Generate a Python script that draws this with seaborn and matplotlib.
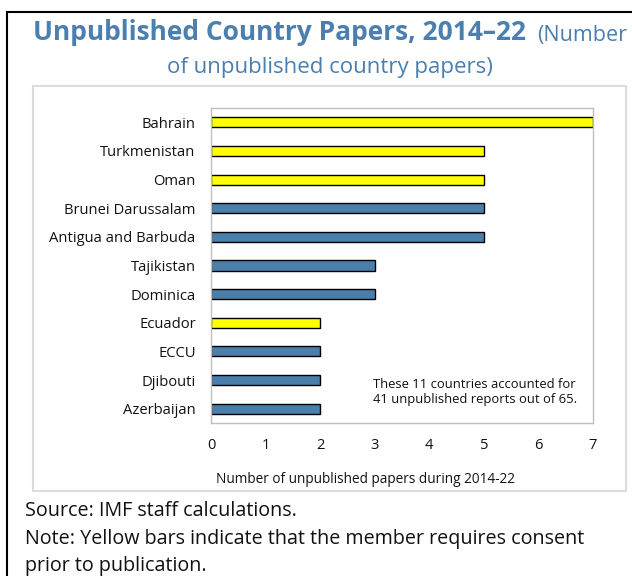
import matplotlib
matplotlib.use("Agg")
import matplotlib.pyplot as plt
from matplotlib.patches import Rectangle
from matplotlib.ticker import FixedLocator
import seaborn as sns
import pandas as pd

countries = ["Bahrain", "Turkmenistan", "Oman", "Brunei Darussalam", "Antigua and Barbuda",
             "Tajikistan", "Dominica", "Ecuador", "ECCU", "Djibouti", "Azerbaijan"]
papers = [7, 5, 5, 5, 5, 3, 3, 2, 2, 2, 2]
needs_consent = [True, True, True, False, False, False, False, True, False, False, False]
xticks = [0, 1, 2, 3, 4, 5, 6, 7]

BLUE = "#4a7eab"
YELLOW = "#ffff00"
TITLE_BLUE = "#4a7fb0"

sns.set_style("white")
plt.rcParams["font.family"] = ["Open Sans", "DejaVu Sans"]
plt.rcParams["text.color"] = "#111111"
plt.rcParams["axes.labelcolor"] = "#111111"
plt.rcParams["xtick.labelcolor"] = "#111111"
plt.rcParams["ytick.labelcolor"] = "#111111"

df = pd.DataFrame({"country": countries, "papers": papers, "consent": needs_consent})
palette = {c: (YELLOW if k else BLUE) for c, k in zip(countries, needs_consent)}

fig = plt.figure(figsize=(6.32, 5.76), dpi=100)
ax = fig.add_axes([211 / 632, 1 - 423 / 576, 382 / 632, 315 / 576])

sns.barplot(data=df, x="papers", y="country", hue="country", palette=palette,
            legend=False, width=0.35, edgecolor="black", linewidth=1, saturation=1, ax=ax)

ax.set_xlim(0, 7)
ax.set_ylim(len(countries) - 0.5, -0.5)
ax.set_xticks(xticks)
ax.set_xlabel("Number of unpublished papers during 2014-22", fontsize=9.8)
ax.xaxis.set_label_coords((365 - 211) / 382, -0.155)
ax.set_ylabel("")
ax.tick_params(axis="x", direction="in", length=4, color="#b0b0b0", labelsize=10.5, pad=11)
ax.tick_params(axis="y", which="major", length=0, labelsize=10.6, pad=11)
ax.yaxis.set_minor_locator(FixedLocator([i + 0.5 for i in range(len(countries) - 1)]))
ax.tick_params(axis="y", which="minor", direction="in", length=5, color="#c0c0c0")
for s in ax.spines.values():
    s.set_color("#c0c0c0")
    s.set_linewidth(1)

ax.text(2.97, 9.43, "These 11 countries accounted for\n41 unpublished reports out of 65.",
        ha="left", va="center", fontsize=9.4, linespacing=1.2)

# outer black frame and inner gray panel
fig.patches.append(Rectangle((7 / 632, -0.05), 1.1, 1 - 12 / 576 + 0.05, transform=fig.transFigure,
                             fill=False, edgecolor="black", linewidth=1.5, zorder=0))
fig.patches.append(Rectangle((33 / 632, 1 - 491 / 576), 593 / 632, 405 / 576, transform=fig.transFigure,
                             fill=False, edgecolor="#dcdcdc", linewidth=1.5, zorder=0))

fig.text(33 / 632, 1 - 33 / 576, "Unpublished Country Papers, 2014\u201322", fontsize=19,
         fontweight="bold", color=TITLE_BLUE, ha="left", va="center")
fig.text(537 / 632, 1 - 35 / 576, "(Number", fontsize=15.5, color=TITLE_BLUE, ha="left", va="center")
fig.text(330 / 632, 1 - 67 / 576, "of unpublished country papers)", fontsize=16,
         color=TITLE_BLUE, ha="center", va="center")

fig.text(25 / 632, 1 - 511 / 576, "Source: IMF staff calculations.", fontsize=14.2, ha="left", va="center")
fig.text(25 / 632, 1 - 539 / 576, "Note: Yellow bars indicate that the member requires consent",
         fontsize=14.2, ha="left", va="center")
fig.text(25 / 632, 1 - 566 / 576, "prior to publication.", fontsize=14.2, ha="left", va="center")

fig.savefig("out.png", dpi=100)
